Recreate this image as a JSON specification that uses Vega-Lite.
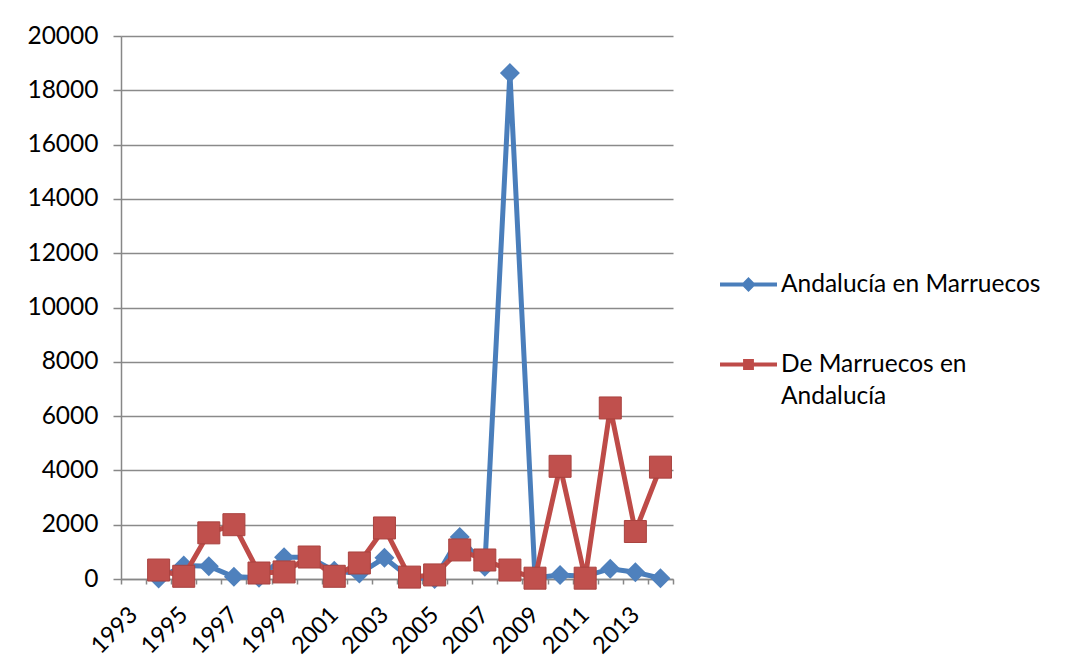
{
  "$schema": "https://vega.github.io/schema/vega-lite/v6.json",
  "width": 552,
  "height": 543,
  "autosize": {"type": "none"},
  "padding": {"left": 121, "top": 36, "right": 400, "bottom": 92},
  "background": "white",
  "config": {"view": {"stroke": null}, "font": "Lato"},
  "data": {
    "values": [
      {"year": "1994", "series": "Andalucía en Marruecos", "value": 20},
      {"year": "1995", "series": "Andalucía en Marruecos", "value": 500},
      {"year": "1996", "series": "Andalucía en Marruecos", "value": 470},
      {"year": "1997", "series": "Andalucía en Marruecos", "value": 80},
      {"year": "1998", "series": "Andalucía en Marruecos", "value": 50},
      {"year": "1999", "series": "Andalucía en Marruecos", "value": 800},
      {"year": "2000", "series": "Andalucía en Marruecos", "value": 800},
      {"year": "2001", "series": "Andalucía en Marruecos", "value": 300},
      {"year": "2002", "series": "Andalucía en Marruecos", "value": 200},
      {"year": "2003", "series": "Andalucía en Marruecos", "value": 780},
      {"year": "2004", "series": "Andalucía en Marruecos", "value": 50},
      {"year": "2005", "series": "Andalucía en Marruecos", "value": 0},
      {"year": "2006", "series": "Andalucía en Marruecos", "value": 1550},
      {"year": "2007", "series": "Andalucía en Marruecos", "value": 450},
      {"year": "2008", "series": "Andalucía en Marruecos", "value": 18640},
      {"year": "2009", "series": "Andalucía en Marruecos", "value": 50},
      {"year": "2010", "series": "Andalucía en Marruecos", "value": 150},
      {"year": "2011", "series": "Andalucía en Marruecos", "value": 100},
      {"year": "2012", "series": "Andalucía en Marruecos", "value": 380},
      {"year": "2013", "series": "Andalucía en Marruecos", "value": 250},
      {"year": "2014", "series": "Andalucía en Marruecos", "value": 30},
      {"year": "1994", "series": "De Marruecos en Andalucía", "value": 330},
      {"year": "1995", "series": "De Marruecos en Andalucía", "value": 100},
      {"year": "1996", "series": "De Marruecos en Andalucía", "value": 1700},
      {"year": "1997", "series": "De Marruecos en Andalucía", "value": 2000},
      {"year": "1998", "series": "De Marruecos en Andalucía", "value": 220},
      {"year": "1999", "series": "De Marruecos en Andalucía", "value": 260},
      {"year": "2000", "series": "De Marruecos en Andalucía", "value": 810},
      {"year": "2001", "series": "De Marruecos en Andalucía", "value": 100},
      {"year": "2002", "series": "De Marruecos en Andalucía", "value": 590},
      {"year": "2003", "series": "De Marruecos en Andalucía", "value": 1880},
      {"year": "2004", "series": "De Marruecos en Andalucía", "value": 70},
      {"year": "2005", "series": "De Marruecos en Andalucía", "value": 150},
      {"year": "2006", "series": "De Marruecos en Andalucía", "value": 1070},
      {"year": "2007", "series": "De Marruecos en Andalucía", "value": 700},
      {"year": "2008", "series": "De Marruecos en Andalucía", "value": 330},
      {"year": "2009", "series": "De Marruecos en Andalucía", "value": 30},
      {"year": "2010", "series": "De Marruecos en Andalucía", "value": 4150},
      {"year": "2011", "series": "De Marruecos en Andalucía", "value": 30},
      {"year": "2012", "series": "De Marruecos en Andalucía", "value": 6300},
      {"year": "2013", "series": "De Marruecos en Andalucía", "value": 1750},
      {"year": "2014", "series": "De Marruecos en Andalucía", "value": 4120}
    ]
  },
  "encoding": {
    "x": {
      "field": "year",
      "type": "ordinal",
      "bandPosition": 0.5,
      "scale": {
        "type": "band",
        "domain": ["1993","1994","1995","1996","1997","1998","1999","2000","2001","2002","2003","2004","2005","2006","2007","2008","2009","2010","2011","2012","2013","2014"],
        "paddingInner": 0,
        "paddingOuter": 0
      },
      "axis": {
        "title": null,
        "labelAngle": -45,
        "labelAlign": "right",
        "labelBaseline": "middle",
        "labelExpr": "toNumber(datum.value) % 2 == 1 ? datum.value : ''",
        "labelOverlap": false,
        "tickBand": "extent",
        "tickSize": 5,
        "grid": false,
        "labelPadding": 27,
        "labelFont": "Lato",
        "labelFontSize": 23.5,
        "labelColor": "black",
        "domainColor": "#878787",
        "domainWidth": 1.5,
        "tickColor": "#878787",
        "tickWidth": 1.5
      }
    },
    "y": {
      "field": "value",
      "type": "quantitative",
      "scale": {"domain": [0, 20000]},
      "axis": {
        "title": null,
        "values": [0,2000,4000,6000,8000,10000,12000,14000,16000,18000,20000],
        "format": "d",
        "labelFont": "Lato",
        "labelFontSize": 24.5,
        "labelColor": "black",
        "labelFlush": false,
        "labelPadding": 15,
        "tickSize": 8,
        "tickColor": "#878787",
        "tickWidth": 1.5,
        "domainColor": "#878787",
        "domainWidth": 1.5,
        "gridColor": "#8a8a8a",
        "gridWidth": 1.5
      }
    },
    "color": {
      "field": "series",
      "type": "nominal",
      "scale": {
        "domain": ["Andalucía en Marruecos", "De Marruecos en Andalucía"],
        "range": ["#4A7EBB", "#BE4B48"]
      },
      "legend": {
        "orient": "none",
        "legendX": 597,
        "legendY": 218,
        "title": null,
        "padding": 0,
        "labelFont": "Lato",
        "labelFontSize": 24.5,
        "labelColor": "black",
        "labelLimit": 400,
        "labelOffset": 2,
        "rowPadding": 36,
        "labelExpr": "datum.label == 'De Marruecos en Andalucía' ? ['De Marruecos en', 'Andalucía'] : datum.label",
        "encode": {
          "symbols": {
            "update": {
              "shape": {"signal": "datum.value == 'Andalucía en Marruecos' ? 'M-1,0H1M0,-0.16L0.16,0L0,0.16L-0.16,0Z' : 'M-1,0H1M-0.12,-0.12H0.12V0.12H-0.12Z'"},
              "size": {"value": 3249},
              "fill": {"scale": "color", "field": "value"},
              "stroke": {"scale": "color", "field": "value"},
              "strokeWidth": {"value": 4},
              "opacity": {"value": 1}
            }
          },
          "labels": {
            "update": {
              "lineHeight": {"value": 32}
            }
          }
        }
      }
    }
  },
  "layer": [
    {
      "transform": [{"filter": "datum.series == 'Andalucía en Marruecos'"}],
      "mark": {"type": "line", "strokeWidth": 5}
    },
    {
      "transform": [{"filter": "datum.series == 'Andalucía en Marruecos'"}],
      "mark": {"type": "point", "shape": "diamond", "filled": true, "size": 400, "opacity": 1, "fill": "#4F81BD"}
    },
    {
      "transform": [{"filter": "datum.series == 'De Marruecos en Andalucía'"}],
      "mark": {"type": "line", "strokeWidth": 5}
    },
    {
      "transform": [{"filter": "datum.series == 'De Marruecos en Andalucía'"}],
      "mark": {"type": "point", "shape": "square", "filled": true, "size": 484, "opacity": 1, "fill": "#C0504D", "stroke": "#A9423F", "strokeWidth": 1}
    }
  ]
}
